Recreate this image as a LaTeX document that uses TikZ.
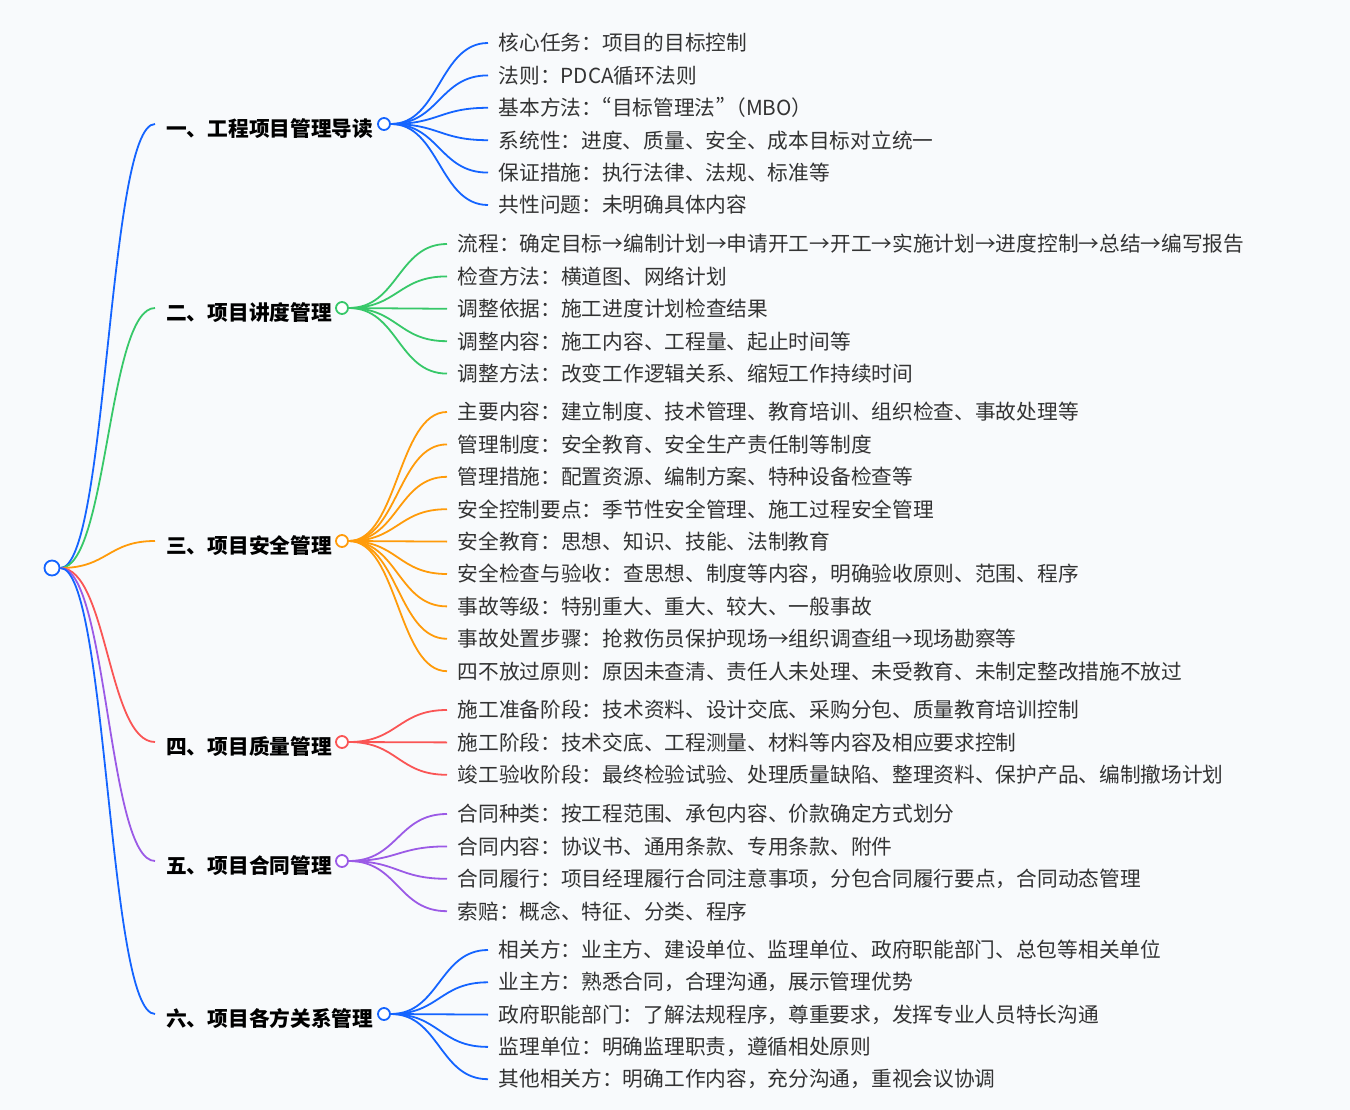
\documentclass[tikz,border=0pt]{standalone}
\usepackage{fontspec}
\setmainfont{Noto Sans CJK SC}
\usepackage{tikz}
\usetikzlibrary{calc}
\definecolor{paperbg}{RGB}{248,250,252}
\definecolor{mapblue}{RGB}{20,100,255}
\definecolor{mapgreen}{RGB}{55,200,105}
\definecolor{maporange}{RGB}{255,155,10}
\definecolor{mapred}{RGB}{250,85,85}
\definecolor{mappurple}{RGB}{155,90,230}
\definecolor{leafgray}{RGB}{51,51,51}
\newcommand{\pq}[1]{{\addfontfeature{CharacterWidth=Proportional}#1}}

\begin{document}
\begin{tikzpicture}[x=1pt,y=-1pt,
  hub/.style={circle,draw,line width=1.8pt,fill=white,inner sep=0pt,minimum size=12pt},
  topic/.style={anchor=west,inner xsep=11pt,inner ysep=0pt,
                font=\fontsize{20.7}{24}\selectfont\bfseries},
  leaf/.style={anchor=west,inner xsep=10.5pt,inner ysep=0pt,text=leafgray,
               font=\fontsize{20.7}{24}\selectfont},
  link/.style={line width=1.8pt},
  hbez/.style={to path={let \p1=(\tikztostart),\p2=(\tikztotarget) in
               .. controls ({(\x1+\x2)/2},\y1) and ({(\x1+\x2)/2},\y2) .. (\tikztotarget)}}
]

% Paper
\fill[paperbg] (0,0) rectangle (1350,1110);
\useasboundingbox (0,0) rectangle (1350,1110);

% Root
\node[hub,draw=mapblue,minimum size=15pt] (root) at (52,568) {};

% Branch 1
\node[topic] (b1) at (155,129) {一、工程项目管理导读};
\draw[link,mapblue] (root.east) to[hbez] ([yshift=5pt]b1.west);
\node[hub,draw=mapblue] (c1) at (384,124) {};
\foreach \t [count=\i] in {核心任务：项目的目标控制, 法则：PDCA循环法则,
    基本方法：\pq{“}目标管理法\pq{”}（MBO）, 系统性：进度、质量、安全、成本目标对立统一,
    保证措施：执行法律、法规、标准等, 共性问题：未明确具体内容} {
  \node[leaf] (l1-\i) at (488,{43+(\i-1)*32.4}) {\t};
  \draw[link,mapblue] (c1.east) to[hbez] (l1-\i.west);
}

% Branch 2
\node[topic] (b2) at (155,313) {二、项目讲度管理};
\draw[link,mapgreen] (root.east) to[hbez] ([yshift=5pt]b2.west);
\node[hub,draw=mapgreen] (c2) at (342,308) {};
\foreach \t [count=\i] in {流程：确定目标→编制计划→申请开工→开工→实施计划→进度控制→总结→编写报告,
    检查方法：横道图、网络计划, 调整依据：施工进度计划检查结果,
    调整内容：施工内容、工程量、起止时间等, 调整方法：改变工作逻辑关系、缩短工作持续时间} {
  \node[leaf] (l2-\i) at (447,{244+(\i-1)*32.4}) {\t};
  \draw[link,mapgreen] (c2.east) to[hbez] (l2-\i.west);
}

% Branch 3
\node[topic] (b3) at (155,546) {三、项目安全管理};
\draw[link,maporange] (root.east) to[hbez] ([yshift=5pt]b3.west);
\node[hub,draw=maporange] (c3) at (342,541) {};
\foreach \t [count=\i] in {主要内容：建立制度、技术管理、教育培训、组织检查、事故处理等,
    管理制度：安全教育、安全生产责任制等制度, 管理措施：配置资源、编制方案、特种设备检查等,
    安全控制要点：季节性安全管理、施工过程安全管理, 安全教育：思想、知识、技能、法制教育,
    安全检查与验收：查思想、制度等内容，明确验收原则、范围、程序,
    事故等级：特别重大、重大、较大、一般事故,
    事故处置步骤：抢救伤员保护现场→组织调查组→现场勘察等,
    四不放过原则：原因未查清、责任人未处理、未受教育、未制定整改措施不放过} {
  \node[leaf] (l3-\i) at (447,{412+(\i-1)*32.4}) {\t};
  \draw[link,maporange] (c3.east) to[hbez] (l3-\i.west);
}

% Branch 4
\node[topic] (b4) at (155,747) {四、项目质量管理};
\draw[link,mapred] (root.east) to[hbez] ([yshift=5pt]b4.west);
\node[hub,draw=mapred] (c4) at (342,742) {};
\foreach \t [count=\i] in {施工准备阶段：技术资料、设计交底、采购分包、质量教育培训控制,
    施工阶段：技术交底、工程测量、材料等内容及相应要求控制,
    竣工验收阶段：最终检验试验、处理质量缺陷、整理资料、保护产品、编制撤场计划} {
  \node[leaf] (l4-\i) at (447,{710+(\i-1)*32.4}) {\t};
  \draw[link,mapred] (c4.east) to[hbez] (l4-\i.west);
}

% Branch 5
\node[topic] (b5) at (155,866) {五、项目合同管理};
\draw[link,mappurple] (root.east) to[hbez] ([yshift=5pt]b5.west);
\node[hub,draw=mappurple] (c5) at (342,861) {};
\foreach \t [count=\i] in {合同种类：按工程范围、承包内容、价款确定方式划分,
    合同内容：协议书、通用条款、专用条款、附件,
    合同履行：项目经理履行合同注意事项，分包合同履行要点，合同动态管理,
    索赔：概念、特征、分类、程序} {
  \node[leaf] (l5-\i) at (447,{814+(\i-1)*32.4}) {\t};
  \draw[link,mappurple] (c5.east) to[hbez] (l5-\i.west);
}

% Branch 6
\node[topic] (b6) at (155,1019) {六、项目各方关系管理};
\draw[link,mapblue] (root.east) to[hbez] ([yshift=5pt]b6.west);
\node[hub,draw=mapblue] (c6) at (384,1014) {};
\foreach \t [count=\i] in {相关方：业主方、建设单位、监理单位、政府职能部门、总包等相关单位,
    业主方：熟悉合同，合理沟通，展示管理优势,
    政府职能部门：了解法规程序，尊重要求，发挥专业人员特长沟通,
    监理单位：明确监理职责，遵循相处原则,
    其他相关方：明确工作内容，充分沟通，重视会议协调} {
  \node[leaf] (l6-\i) at (488,{950+(\i-1)*32.3}) {\t};
  \draw[link,mapblue] (c6.east) to[hbez] (l6-\i.west);
}

\end{tikzpicture}
\end{document}
